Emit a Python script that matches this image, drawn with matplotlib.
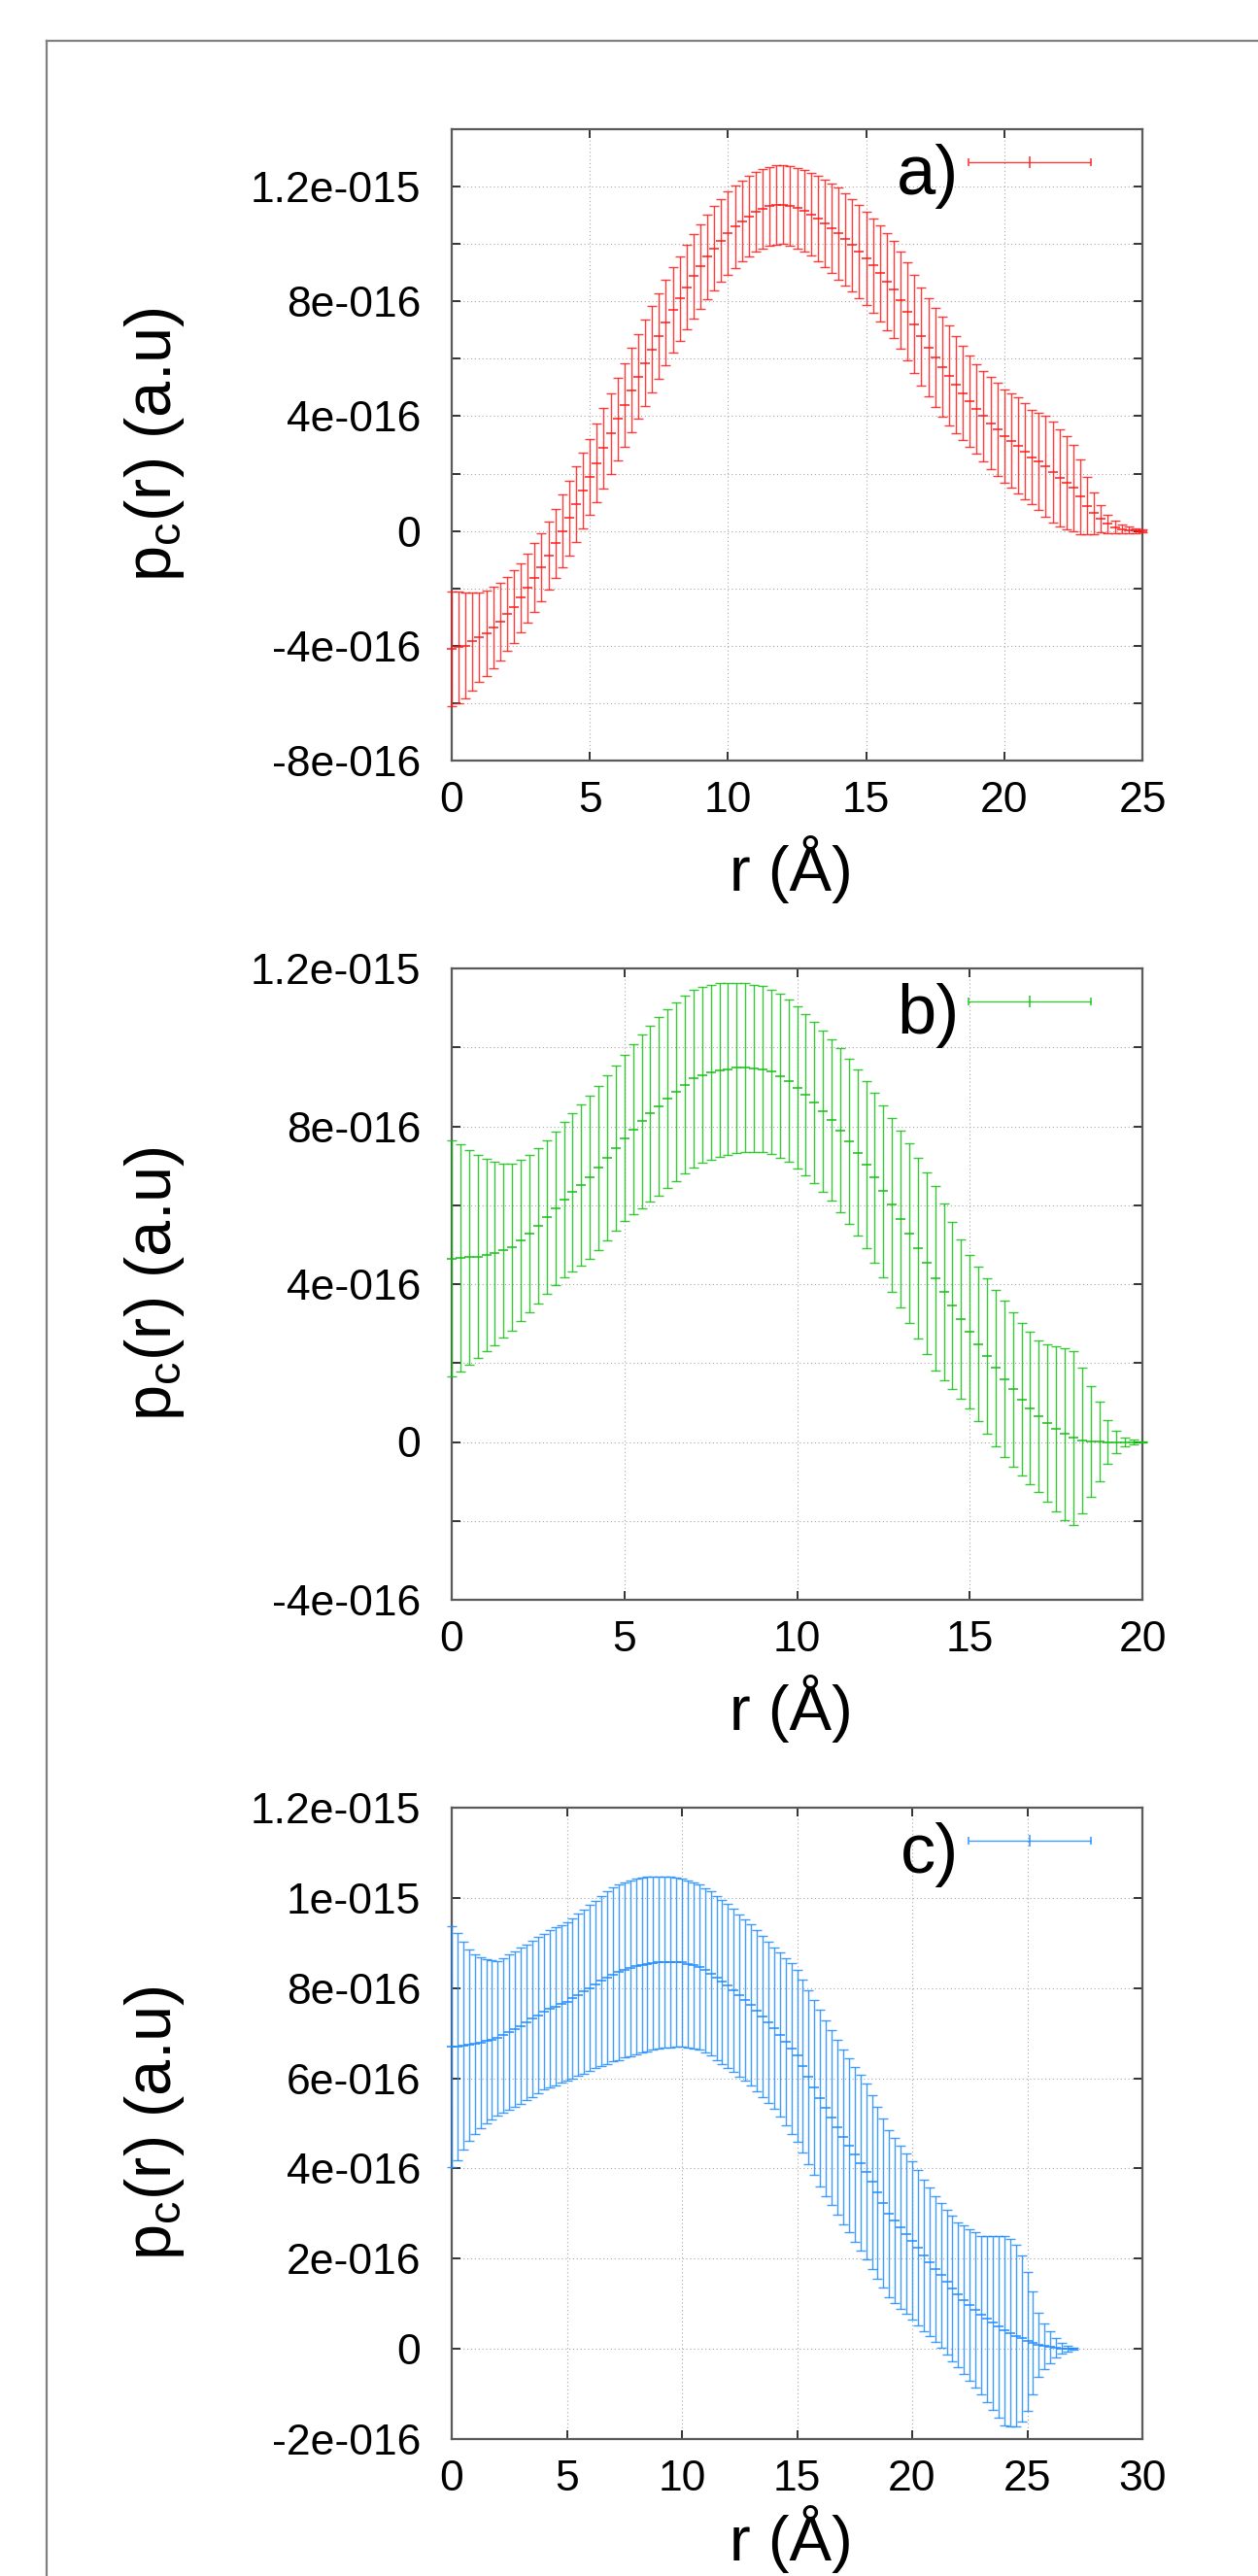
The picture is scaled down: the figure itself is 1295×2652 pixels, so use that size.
import numpy as np
import matplotlib
matplotlib.use("Agg")
import matplotlib.pyplot as plt
from matplotlib.ticker import MultipleLocator, FuncFormatter
from matplotlib.lines import Line2D

plt.rcParams['font.family'] = ['Liberation Sans', 'DejaVu Sans']
plt.rcParams['mathtext.fontset'] = 'custom'
plt.rcParams['mathtext.rm'] = 'Liberation Sans'
plt.rcParams['mathtext.it'] = 'Liberation Sans:italic'

# values in units of 1e-16, r step 0.25 A
r_a = np.arange(0, 25.01, 0.25)
mean_a = [-4.10, -4.05, -3.99, -3.85,
          -3.70, -3.56, -3.37, -3.16,
          -2.89, -2.64, -2.33, -1.99,
          -1.62, -1.27, -0.85, -0.43,
          0.00, 0.45, 0.93, 1.40,
          1.89, 2.37, 2.89, 3.39,
          3.90, 4.40, 4.90, 5.38,
          5.86, 6.33, 6.80, 7.25,
          7.70, 8.10, 8.50, 8.88,
          9.22, 9.55, 9.85, 10.12,
          10.39, 10.60, 10.80, 10.97,
          11.12, 11.23, 11.31, 11.36,
          11.37, 11.33, 11.25, 11.15,
          11.03, 10.88, 10.72, 10.55,
          10.37, 10.17, 9.96, 9.74,
          9.50, 9.25, 8.98, 8.70,
          8.41, 8.05, 7.65, 7.20,
          6.78, 6.40, 6.05, 5.72,
          5.41, 5.10, 4.80, 4.52,
          4.25, 4.00, 3.76, 3.53,
          3.31, 3.15, 2.98, 2.78,
          2.57, 2.42, 2.25, 2.05,
          1.85, 1.68, 1.50, 1.20,
          0.87, 0.62, 0.42, 0.25,
          0.13, 0.07, 0.03, 0.01,
          0.00]
err_a = [2.00, 1.95, 1.85, 1.70,
         1.57, 1.50, 1.43, 1.36,
         1.30, 1.26, 1.19, 1.20,
         1.20, 1.19, 1.19, 1.20,
         1.26, 1.30, 1.31, 1.32,
         1.33, 1.38, 1.40, 1.42,
         1.45, 1.46, 1.47, 1.48,
         1.50, 1.50, 1.49, 1.49,
         1.48, 1.48, 1.48, 1.48,
         1.48, 1.47, 1.46, 1.45,
         1.45, 1.43, 1.41, 1.40,
         1.39, 1.38, 1.38, 1.38,
         1.38, 1.39, 1.40, 1.42,
         1.44, 1.48, 1.52, 1.56,
         1.60, 1.61, 1.62, 1.62,
         1.63, 1.65, 1.67, 1.69,
         1.70, 1.70, 1.71, 1.71,
         1.71, 1.72, 1.73, 1.74,
         1.74, 1.70, 1.64, 1.60,
         1.57, 1.58, 1.60, 1.62,
         1.63, 1.65, 1.67, 1.69,
         1.65, 1.70, 1.75, 1.75,
         1.70, 1.62, 1.50, 1.30,
         1.00, 0.72, 0.48, 0.32,
         0.22, 0.16, 0.12, 0.08,
         0.04]

r_b = np.arange(0, 20.01, 0.25)
mean_b = [4.65, 4.66, 4.68, 4.70,
          4.73, 4.78, 4.85, 4.94,
          5.10, 5.28, 5.48, 5.70,
          5.92, 6.14, 6.33, 6.52,
          6.71, 6.95, 7.20, 7.45,
          7.70, 7.92, 8.13, 8.33,
          8.51, 8.70, 8.88, 9.05,
          9.21, 9.30, 9.37, 9.42,
          9.45, 9.48, 9.48, 9.47,
          9.45, 9.38, 9.28, 9.15,
          8.98, 8.80, 8.60, 8.38,
          8.16, 7.90, 7.62, 7.33,
          7.02, 6.70, 6.36, 6.01,
          5.66, 5.29, 4.91, 4.53,
          4.15, 3.80, 3.45, 3.12,
          2.79, 2.48, 2.18, 1.88,
          1.59, 1.33, 1.08, 0.86,
          0.66, 0.48, 0.33, 0.20,
          0.10, 0.04, 0.02, 0.01,
          0.00, 0.00, 0.00, 0.00,
          0.00]
err_b = [3.00, 2.88, 2.72, 2.58,
         2.44, 2.32, 2.20, 2.11,
         2.04, 1.99, 1.96, 1.95,
         1.95, 1.97, 2.00, 2.04,
         2.07, 2.08, 2.09, 2.10,
         2.10, 2.15, 2.20, 2.23,
         2.26, 2.26, 2.26, 2.25,
         2.25, 2.23, 2.21, 2.20,
         2.18, 2.16, 2.14, 2.12,
         2.11, 2.09, 2.07, 2.06,
         2.05, 2.05, 2.05, 2.05,
         2.05, 2.07, 2.09, 2.10,
         2.12, 2.15, 2.18, 2.21,
         2.24, 2.27, 2.29, 2.31,
         2.33, 2.24, 2.12, 2.02,
         1.95, 1.96, 1.97, 1.98,
         1.98, 1.96, 1.94, 1.93,
         1.92, 2.00, 2.10, 2.17,
         2.21, 1.85, 1.40, 1.00,
         0.56, 0.28, 0.12, 0.05,
         0.02]

r_c = np.arange(0, 27.01, 0.25)
mean_c = [6.70, 6.71, 6.72, 6.74,
          6.76, 6.79, 6.82, 6.85,
          6.89, 6.95, 7.02, 7.09,
          7.16, 7.24, 7.32, 7.40,
          7.48, 7.54, 7.59, 7.65,
          7.70, 7.77, 7.85, 7.92,
          8.00, 8.08, 8.16, 8.23,
          8.30, 8.35, 8.40, 8.44,
          8.48, 8.51, 8.53, 8.55,
          8.57, 8.58, 8.58, 8.58,
          8.57, 8.54, 8.50, 8.46,
          8.40, 8.32, 8.23, 8.14,
          8.05, 7.95, 7.84, 7.74,
          7.63, 7.50, 7.37, 7.24,
          7.11, 6.96, 6.81, 6.66,
          6.50, 6.27, 6.03, 5.80,
          5.56, 5.34, 5.13, 4.91,
          4.70, 4.51, 4.31, 4.12,
          3.93, 3.70, 3.46, 3.23,
          3.00, 2.85, 2.70, 2.55,
          2.40, 2.24, 2.08, 1.93,
          1.77, 1.63, 1.48, 1.34,
          1.20, 1.09, 0.97, 0.86,
          0.75, 0.66, 0.58, 0.49,
          0.41, 0.35, 0.29, 0.23,
          0.17, 0.13, 0.09, 0.06,
          0.04, 0.02, 0.01, 0.00,
          0.00]
err_c = [2.68, 2.52, 2.30, 2.12,
         1.99, 1.90, 1.82, 1.76,
         1.71, 1.71, 1.72, 1.72,
         1.73, 1.73, 1.73, 1.73,
         1.73, 1.74, 1.75, 1.75,
         1.76, 1.78, 1.80, 1.82,
         1.84, 1.86, 1.89, 1.91,
         1.93, 1.94, 1.94, 1.95,
         1.95, 1.94, 1.93, 1.92,
         1.91, 1.90, 1.89, 1.87,
         1.86, 1.85, 1.84, 1.83,
         1.82, 1.82, 1.82, 1.82,
         1.82, 1.81, 1.80, 1.79,
         1.78, 1.78, 1.78, 1.78,
         1.78, 1.82, 1.86, 1.89,
         1.91, 1.92, 1.93, 1.94,
         1.95, 1.95, 1.94, 1.94,
         1.93, 1.93, 1.94, 1.95,
         1.95, 1.93, 1.90, 1.88,
         1.85, 1.83, 1.81, 1.78,
         1.76, 1.72, 1.68, 1.64,
         1.61, 1.61, 1.61, 1.61,
         1.61, 1.64, 1.68, 1.72,
         1.76, 1.84, 1.93, 2.02,
         2.10, 2.08, 2.02, 1.85,
         1.54, 1.15, 0.72, 0.50,
         0.36, 0.22, 0.12, 0.06,
         0.02]

panels = [
    dict(r=r_a, m=mean_a, e=err_a, tag='a)', col='#ff1a1a', xmax=25, ylim=(-8e-16, 14e-16),
         major=4e-16, minor=2e-16, xlab_y=-0.172),
    dict(r=r_b, m=mean_b, e=err_b, tag='b)', col='#14c014', xmax=20, ylim=(-4e-16, 12e-16),
         major=4e-16, minor=2e-16, xlab_y=-0.172),
    dict(r=r_c, m=mean_c, e=err_c, tag='c)', col='#1e8cff', xmax=30, ylim=(-2e-16, 12e-16),
         major=2e-16, minor=None, xlab_y=-0.158),
]


def gp_fmt(v, pos):
    # gnuplot on windows: 1.2e-015
    if abs(v) < 1e-22:
        return '0'
    m, e = ('%g' % v).split('e')
    return '%se%s%03d' % (m, e[0], int(e[1:]))


fig = plt.figure(figsize=(12.95, 26.52), dpi=100)

# outer frame (only top and left edges visible)
fx, fy = 48 / 1295, 1 - 42 / 2652
fig.add_artist(Line2D([fx, 1.0], [fy, fy], transform=fig.transFigure, color='#808080', lw=1.6))
fig.add_artist(Line2D([fx, fx], [0.0, fy], transform=fig.transFigure, color='#808080', lw=1.6))

bottoms = [1 - 783 / 2652, 1 - 1647 / 2652, 1 - 2511 / 2652]
left, width, height = 465 / 1295, 711 / 1295, 650 / 2652

for p, b in zip(panels, bottoms):
    ax = fig.add_axes([left, b, width, height])
    r = np.asarray(p['r'])
    m = np.asarray(p['m']) * 1e-16
    e = np.asarray(p['e']) * 1e-16

    ax.errorbar(r, m, yerr=e, fmt='none', ecolor=p['col'], elinewidth=1.0,
                capsize=3.3, capthick=1.0, alpha=0.85, clip_on=False, zorder=3)
    ax.plot(r, m, linestyle='none', marker='_', ms=7, mew=1.1, color=p['col'],
            clip_on=False, zorder=4)

    ax.set_xlim(0, p['xmax'])
    ax.set_ylim(*p['ylim'])
    ax.xaxis.set_major_locator(MultipleLocator(5))
    ax.yaxis.set_major_locator(MultipleLocator(p['major']))
    if p['minor']:
        ax.yaxis.set_minor_locator(MultipleLocator(p['minor']))
    ax.yaxis.set_major_formatter(FuncFormatter(gp_fmt))

    ax.set_axisbelow(True)
    ax.grid(which='both', color='#a8a8a8', linestyle=(0, (1, 2.5)), linewidth=0.8)
    ax.tick_params(which='both', direction='in', length=6.5, width=1.1, color='black',
                   top=True, right=True, labelsize=32)
    ax.tick_params(axis='y', pad=23)
    ax.tick_params(axis='x', pad=15)
    for s in ax.spines.values():
        s.set_color('#5a5a5a')
        s.set_linewidth(1.6)

    ax.text(-0.43, 0.5, r'p$_\mathrm{c}$(r) (a.u)', transform=ax.transAxes,
            rotation=90, ha='center', va='center', fontsize=48)
    ax.text(0.491, p['xlab_y'], 'r (Å)', transform=ax.transAxes,
            ha='center', va='center', fontsize=47)

    # key: tag text + horizontal errorbar sample
    ax.text(0.735, 0.926, p['tag'], transform=ax.transAxes, ha='right', va='center', fontsize=52)
    ax.errorbar([0.837], [0.948], xerr=[0.0886], transform=ax.transAxes, fmt='|',
                ms=9, mew=1.2, color=p['col'], elinewidth=1.0, capsize=2.9, capthick=1.0,
                alpha=0.85, clip_on=False, zorder=5)

fig.savefig('out.png', dpi=100)
